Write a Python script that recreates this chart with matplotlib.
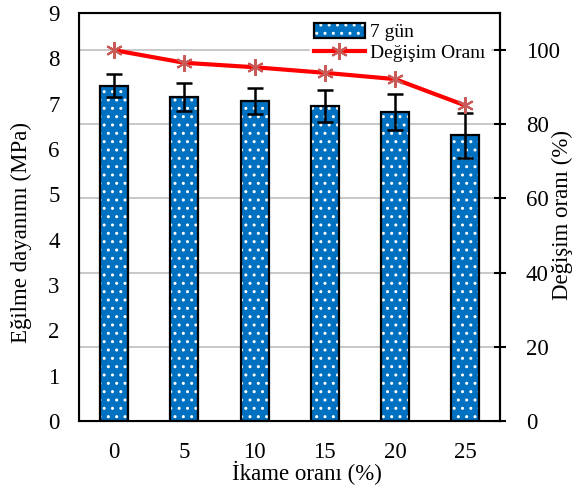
import numpy as np
import matplotlib
matplotlib.use("Agg")
import matplotlib.pyplot as plt
from matplotlib.legend_handler import HandlerTuple

plt.rcParams['font.family'] = ['Liberation Serif', 'DejaVu Serif']
plt.rcParams['hatch.linewidth'] = 1.0

# Veriler
ikame = ['0', '5', '10', '15', '20', '25']
dayanim = [7.40, 7.15, 7.06, 6.95, 6.82, 6.30]
hata = [0.25, 0.30, 0.28, 0.35, 0.40, 0.50]
degisim = [100.0, 96.6, 95.4, 93.9, 92.2, 85.1]
sag_ticks = [0, 20, 40, 60, 80, 100]

fig = plt.figure(figsize=(5.77, 4.86), dpi=100)
ax = fig.add_axes([0.137, 0.134, 0.73, 0.839])
ax2 = ax.twinx()

x = np.arange(len(ikame))
sol_max = 9
sag_max = 110
fs = 16.5

# Izgara çizgileri (sağ eksene göre)
for t in sag_ticks[1:]:
    ax.axhline(t * sol_max / sag_max, color='#BFBFBF', linewidth=1.2, zorder=0)

# Çubuklar: beyaz noktalı tarama + siyah kenar
b1 = ax.bar(x, dayanim, width=0.4, color='#0070C0', edgecolor='white',
            hatch='..', linewidth=0, zorder=2)
b2 = ax.bar(x, dayanim, width=0.4, color='none', edgecolor='black',
            linewidth=1.6, zorder=3)
ax.errorbar(x, dayanim, yerr=hata, fmt='none', ecolor='black',
            elinewidth=1.8, capsize=6, capthick=1.8, zorder=4)

ax.set_xlim(-0.5, 5.5)
ax.set_ylim(0, sol_max)
ax.set_yticks(range(0, 10))
ax.set_xticks(x)
ax.set_xticklabels(ikame)
ax.tick_params(axis='both', length=0, labelsize=fs)
ax.tick_params(axis='y', pad=14)
ax.tick_params(axis='x', pad=15)
for s in ['left', 'bottom', 'right', 'top']:
    ax.spines[s].set_linewidth(1.5)
ax.set_ylabel('Eğilme dayanımı (MPa)', fontsize=fs)
ax.yaxis.set_label_coords(-0.112, 0.463)
ax.set_xlabel('İkame oranı (%)', fontsize=fs)
ax.xaxis.set_label_coords(0.54, -0.098)

# Değişim oranı çizgisi
l1, = ax2.plot(x, degisim, color='#FF0000', linewidth=3, marker=(6, 2, 0),
               markersize=12, markeredgecolor='#C85A58', markeredgewidth=1.5,
               zorder=5)
ax2.set_ylim(0, sag_max)
ax2.set_yticks(sag_ticks)
ax2.tick_params(axis='y', direction='inout', length=9, width=1.5,
                labelsize=fs, pad=14)
ax2.spines['right'].set_linewidth(1.5)
ax2.set_ylabel('Değişim oranı (%)', fontsize=fs)
ax2.yaxis.set_label_coords(1.1235, 0.505)

leg = ax2.legend([(b1, b2), l1], ['7 gün', 'Değişim Oranı'],
                 handler_map={tuple: HandlerTuple(ndivide=1, pad=0)},
                 loc='upper right', bbox_to_anchor=(0.975, 0.985),
                 frameon=True, fancybox=False, framealpha=1, edgecolor='white',
                 fontsize=14, handlelength=2.6, handleheight=0.8,
                 borderaxespad=0.0, borderpad=0.2, labelspacing=0.12,
                 handletextpad=0.3)
leg.set_zorder(3)

fig.savefig('out.png', dpi=100)
